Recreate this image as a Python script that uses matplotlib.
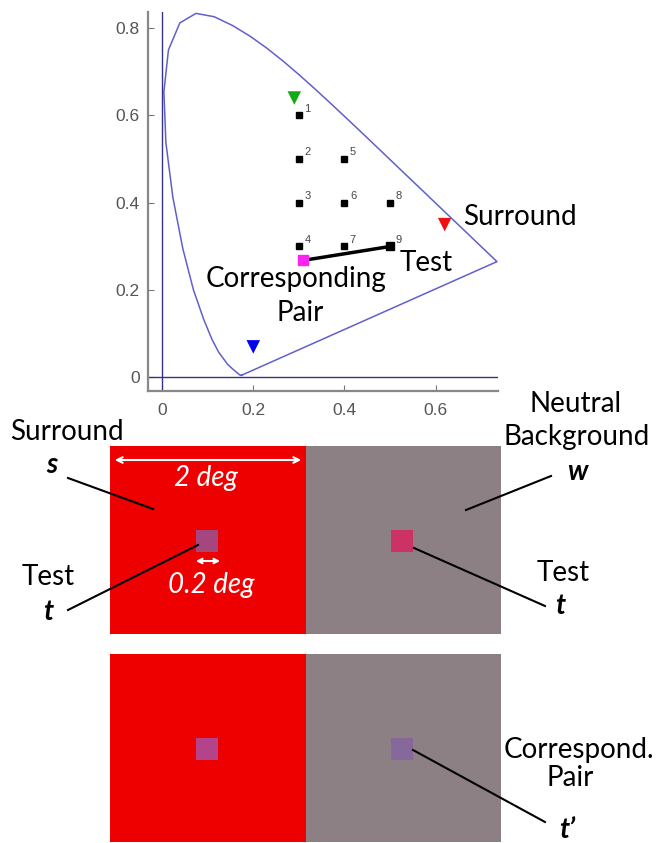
import matplotlib.pyplot as plt
from matplotlib.patches import Rectangle

# CIE 1931 spectral locus (x, y), closed by the purple line
locus_x = [0.1741, 0.1733, 0.1714, 0.1689, 0.1644, 0.1566, 0.1440, 0.1241, 0.1096, 0.0913,
           0.0687, 0.0454, 0.0235, 0.0082, 0.0039, 0.0139, 0.0389, 0.0743, 0.1142, 0.1547,
           0.1929, 0.2296, 0.2658, 0.3016, 0.3373, 0.3731, 0.4087, 0.4441, 0.4788, 0.5125,
           0.5448, 0.5752, 0.6029, 0.6270, 0.6658, 0.6915, 0.7079, 0.7190, 0.7260, 0.7300,
           0.7334, 0.7347, 0.1741]
locus_y = [0.0050, 0.0048, 0.0051, 0.0069, 0.0109, 0.0177, 0.0297, 0.0578, 0.0868, 0.1327,
           0.2007, 0.2950, 0.4127, 0.5384, 0.6548, 0.7502, 0.8120, 0.8338, 0.8262, 0.8059,
           0.7816, 0.7543, 0.7243, 0.6923, 0.6589, 0.6245, 0.5896, 0.5547, 0.5202, 0.4866,
           0.4544, 0.4242, 0.3965, 0.3725, 0.3340, 0.3083, 0.2920, 0.2809, 0.2740, 0.2700,
           0.2666, 0.2653, 0.0050]

# test stimuli
test_labels = ['1', '2', '3', '4', '5', '6', '7', '8', '9']
test_x = [0.3, 0.3, 0.3, 0.3, 0.4, 0.4, 0.4, 0.5, 0.5]
test_y = [0.6, 0.5, 0.4, 0.3, 0.5, 0.4, 0.3, 0.4, 0.3]

# surround primaries
prim_x = [0.62, 0.29, 0.20]
prim_y = [0.35, 0.64, 0.07]
prim_colors = ['#ee1111', '#11aa11', '#0000ee']

# chosen test and its corresponding pair
pair_x = [0.5, 0.309]
pair_y = [0.3, 0.268]

# stimulus panels: [left half, right half] for each row
panel_bg = ['#ee0000', '#8c8084']
square_colors = [['#a6467f', '#cc3364'], ['#b4448a', '#87689b']]

fig = plt.figure(figsize=(6.56, 8.43), dpi=100)

# overlay in pixel coordinates for the stimulus panels
ov = fig.add_axes([0, 0, 1, 1])
ov.set_xlim(0, 656)
ov.set_ylim(843, 0)
ov.axis('off')

ax = fig.add_axes([148 / 656, 1 - 391 / 843, 350 / 656, 379 / 843])
ax.set_facecolor('none')
ax.plot(locus_x, locus_y, color='#6060cc', lw=1.1)
ax.axhline(0, color='#33338a', lw=1)
ax.axvline(0, color='#33338a', lw=1)
ax.plot(test_x, test_y, 's', color='black', ms=4)
for lab, x, y in zip(test_labels, test_x, test_y):
    ax.text(x + 0.012, y + 0.009, lab, fontsize=8, color='#444444', family='Liberation Sans')
ax.plot(pair_x, pair_y, color='black', lw=2.5)
ax.plot(pair_x[0], pair_y[0], 's', color='black', ms=6)
ax.plot(pair_x[1], pair_y[1], 's', color='#ff22ee', ms=7.5)
ax.scatter(prim_x, prim_y, marker='v', c=prim_colors, s=95, linewidths=0)

tf = 'Lato'
fs = 20
ax.text(0.785, 0.367, 'Surround', fontsize=fs, family=tf, ha='center', va='center')
ax.text(0.579, 0.262, 'Test', fontsize=fs, family=tf, ha='center', va='center')
ax.text(0.294, 0.225, 'Corresponding', fontsize=fs, family=tf, ha='center', va='center')
ax.text(0.303, 0.147, 'Pair', fontsize=fs, family=tf, ha='center', va='center')

ax.set_xlim(-0.031, 0.737)
ax.set_ylim(-0.031, 0.837)
ax.set_xticks([0, 0.2, 0.4, 0.6])
ax.set_xticklabels(['0', '0.2', '0.4', '0.6'])
ax.set_yticks([0, 0.2, 0.4, 0.6, 0.8])
ax.set_yticklabels(['0', '0.2', '0.4', '0.6', '0.8'])
for lab in ax.get_xticklabels() + ax.get_yticklabels():
    lab.set_family('Liberation Sans')
ax.tick_params(direction='in', length=4, color='#777777', labelcolor='#555555', labelsize=12.5)
ax.tick_params(axis='x', pad=9)
ax.tick_params(axis='y', pad=6)
for s in ['top', 'right']:
    ax.spines[s].set_visible(False)
for s in ['left', 'bottom']:
    ax.spines[s].set_color('#888888')
    ax.spines[s].set_linewidth(1.6)

# stimulus panels
left, mid, right = 110, 306, 501
tops = [446, 654]
bottoms = [634, 842]
sq = 22
for row in range(2):
    h = bottoms[row] - tops[row]
    ov.add_patch(Rectangle((left, tops[row]), mid - left, h, color=panel_bg[0], lw=0))
    ov.add_patch(Rectangle((mid, tops[row]), right - mid, h, color=panel_bg[1], lw=0))
    cy = (tops[row] + bottoms[row]) / 2 + 0.5
    for k, cx in enumerate([207, 402]):
        ov.add_patch(Rectangle((cx - sq / 2, cy - sq / 2), sq, sq,
                               color=square_colors[row][k], lw=0))

# white size arrows
ov.annotate('', xy=(112, 460), xytext=(304, 460),
            arrowprops=dict(arrowstyle='<->', color='white', lw=1.5))
ov.text(206, 478, '2 deg', color='white', fontsize=fs, family=tf, style='italic',
        ha='center', va='center')
ov.annotate('', xy=(193, 561), xytext=(223, 561),
            arrowprops=dict(arrowstyle='<->', color='white', lw=1.5, mutation_scale=8))
ov.text(211, 585, '0.2 deg', color='white', fontsize=fs, family=tf, style='italic',
        ha='center', va='center')

# labels and leader lines
ov.text(67, 432, 'Surround', fontsize=fs, family=tf, ha='center', va='center')
ov.text(52, 465, 's', fontsize=fs, family=tf, weight='bold', style='italic', ha='center', va='center')
ov.plot([68, 153], [478, 509], color='black', lw=1.5)
ov.text(48, 577, 'Test', fontsize=fs, family=tf, ha='center', va='center')
ov.text(48, 612, 't', fontsize=fs, family=tf, weight='bold', style='italic', ha='center', va='center')
ov.plot([68, 198], [610, 545], color='black', lw=1.5)

ov.text(576, 404, 'Neutral', fontsize=fs, family=tf, ha='center', va='center')
ov.text(577, 437, 'Background', fontsize=fs, family=tf, ha='center', va='center')
ov.text(577, 472, 'w', fontsize=fs, family=tf, weight='bold', style='italic', ha='center', va='center')
ov.plot([551, 466], [476, 510], color='black', lw=1.5)
ov.text(563, 573, 'Test', fontsize=fs, family=tf, ha='center', va='center')
ov.text(560, 606, 't', fontsize=fs, family=tf, weight='bold', style='italic', ha='center', va='center')
ov.plot([414, 545], [548, 606], color='black', lw=1.5)

ov.text(579, 750, 'Correspond.', fontsize=fs, family=tf, ha='center', va='center')
ov.text(570, 778, 'Pair', fontsize=fs, family=tf, ha='center', va='center')
ov.text(567, 830, 't\u2019', fontsize=fs, family=tf, weight='bold', style='italic', ha='center', va='center')
ov.plot([413, 545], [750, 822], color='black', lw=1.5)

fig.savefig('out.png', dpi=100)
